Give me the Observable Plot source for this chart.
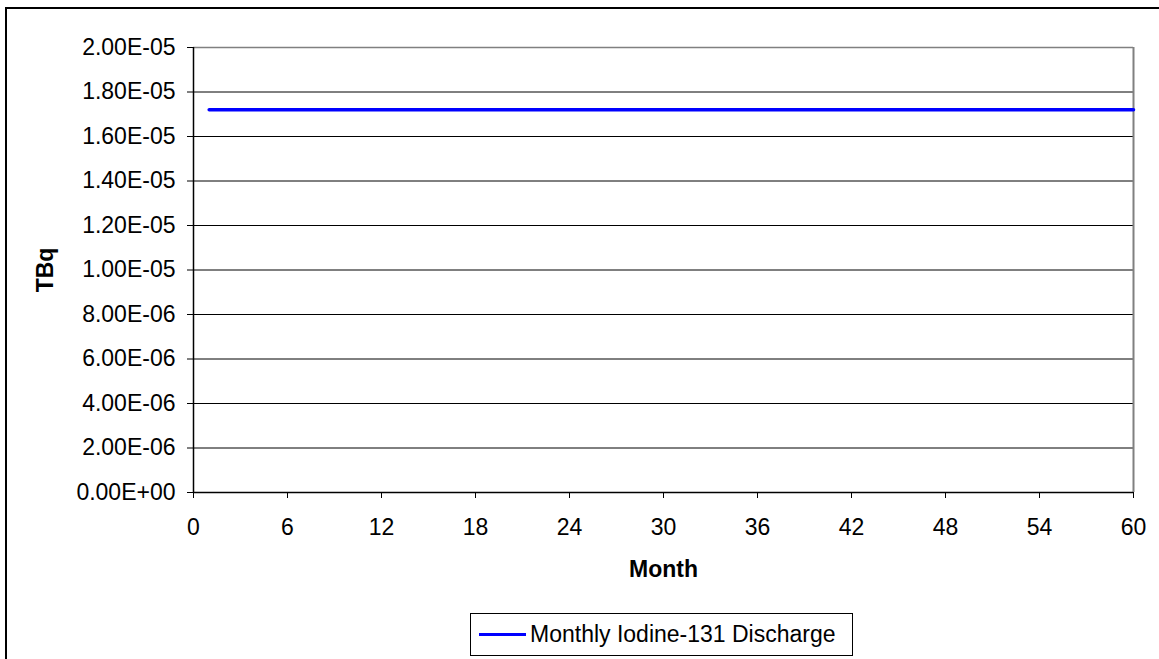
<!DOCTYPE html>
<html>
<head>
<meta charset="utf-8">
<script src="https://cdn.jsdelivr.net/npm/d3@7"></script>
<script src="https://cdn.jsdelivr.net/npm/@observablehq/plot@0.6"></script>
<style>
  html, body { margin: 0; padding: 0; background: #fff; overflow: hidden; width: 1159px; height: 659px; }
  #wrap { position: relative; width: 1159px; height: 659px; font-family: "Liberation Sans", Arial, sans-serif; }
  #frame { position: absolute; left: 5px; top: 7px; width: 1200px; height: 700px; border: 2px solid #000; box-sizing: border-box; }
  #chart { position: absolute; left: 0; top: 0; }
  #chart svg { font-family: "Liberation Sans", Arial, sans-serif; }
  #chart g[aria-label="y-axis label"] text, #chart g[aria-label="x-axis label"] text { font-weight: bold; font-size: 23px; }
  #legend { position: absolute; left: 470px; top: 613px; width: 383px; height: 43px; border: 1px solid #000; box-sizing: border-box; display: flex; align-items: center; font-size: 23px; color: #000; white-space: nowrap; }
  #legend .sw { width: 47px; height: 3.5px; background: #0000ff; margin-left: 8px; margin-right: 4px; flex: none; }
</style>
</head>
<body>
<div id="wrap">
  <div id="frame"></div>
  <div id="chart"></div>
  <div id="legend"><span class="sw"></span><span id="legendText"></span></div>
</div>
<script>
// Data
const months = [1,2,3,4,5,6,7,8,9,10,11,12,13,14,15,16,17,18,19,20,21,22,23,24,25,26,27,28,29,30,
                31,32,33,34,35,36,37,38,39,40,41,42,43,44,45,46,47,48,49,50,51,52,53,54,55,56,57,58,59,60];
const discharge = [1.72e-5,1.72e-5,1.72e-5,1.72e-5,1.72e-5,1.72e-5,1.72e-5,1.72e-5,1.72e-5,1.72e-5,
                   1.72e-5,1.72e-5,1.72e-5,1.72e-5,1.72e-5,1.72e-5,1.72e-5,1.72e-5,1.72e-5,1.72e-5,
                   1.72e-5,1.72e-5,1.72e-5,1.72e-5,1.72e-5,1.72e-5,1.72e-5,1.72e-5,1.72e-5,1.72e-5,
                   1.72e-5,1.72e-5,1.72e-5,1.72e-5,1.72e-5,1.72e-5,1.72e-5,1.72e-5,1.72e-5,1.72e-5,
                   1.72e-5,1.72e-5,1.72e-5,1.72e-5,1.72e-5,1.72e-5,1.72e-5,1.72e-5,1.72e-5,1.72e-5,
                   1.72e-5,1.72e-5,1.72e-5,1.72e-5,1.72e-5,1.72e-5,1.72e-5,1.72e-5,1.72e-5,1.72e-5];
const seriesName = "Monthly Iodine-131 Discharge";
const xTicks = [0,6,12,18,24,30,36,42,48,54,60];
const yTicks = [0,2e-6,4e-6,6e-6,8e-6,1e-5,1.2e-5,1.4e-5,1.6e-5,1.8e-5,2e-5];
const yTickLabels = ["0.00E+00","2.00E-06","4.00E-06","6.00E-06","8.00E-06","1.00E-05","1.20E-05","1.40E-05","1.60E-05","1.80E-05","2.00E-05"];
const xLabel = "Month";
const yLabel = "TBq";

const rows = months.map((m, i) => ({month: m, value: discharge[i]}));
const yLabelOf = v => yTickLabels[yTicks.findIndex(t => Math.abs(t - v) < 1e-12)];

const chart = Plot.plot({
  width: 1159,
  height: 605,
  marginLeft: 193,
  marginRight: 26,
  marginTop: 47,
  marginBottom: 113,
  style: {fontSize: "23px", fontFamily: "Liberation Sans, Arial, sans-serif", color: "#000", background: "transparent"},
  x: {domain: [0, 60]},
  y: {domain: [0, 2e-5]},
  marks: [
    Plot.gridY(yTicks.slice(0, -1), {stroke: "#000", strokeOpacity: 1, strokeWidth: 1}),
    Plot.ruleY([2e-5], {stroke: "#808080", strokeWidth: 1.5}),
    Plot.ruleX([60], {stroke: "#808080", strokeWidth: 2}),
    Plot.axisY(yTicks, {tickFormat: yLabelOf, tickSize: 6, tickPadding: 12, label: yLabel, labelAnchor: "center", labelArrow: "none", labelOffset: 157, fontSize: 23}),
    Plot.axisX(xTicks, {tickFormat: d => String(d), tickSize: 6, tickPadding: 20, label: xLabel, labelAnchor: "center", labelArrow: "none", labelOffset: 84, fontSize: 23}),
    Plot.ruleX([0], {stroke: "#000", strokeWidth: 1.5}),
    Plot.ruleY([0], {stroke: "#000", strokeWidth: 1.5}),
    Plot.line(rows, {x: "month", y: "value", stroke: "#0000ff", strokeWidth: 3.5})
  ]
});
document.getElementById("chart").appendChild(chart);
document.getElementById("legendText").textContent = seriesName;
</script>
</body>
</html>
